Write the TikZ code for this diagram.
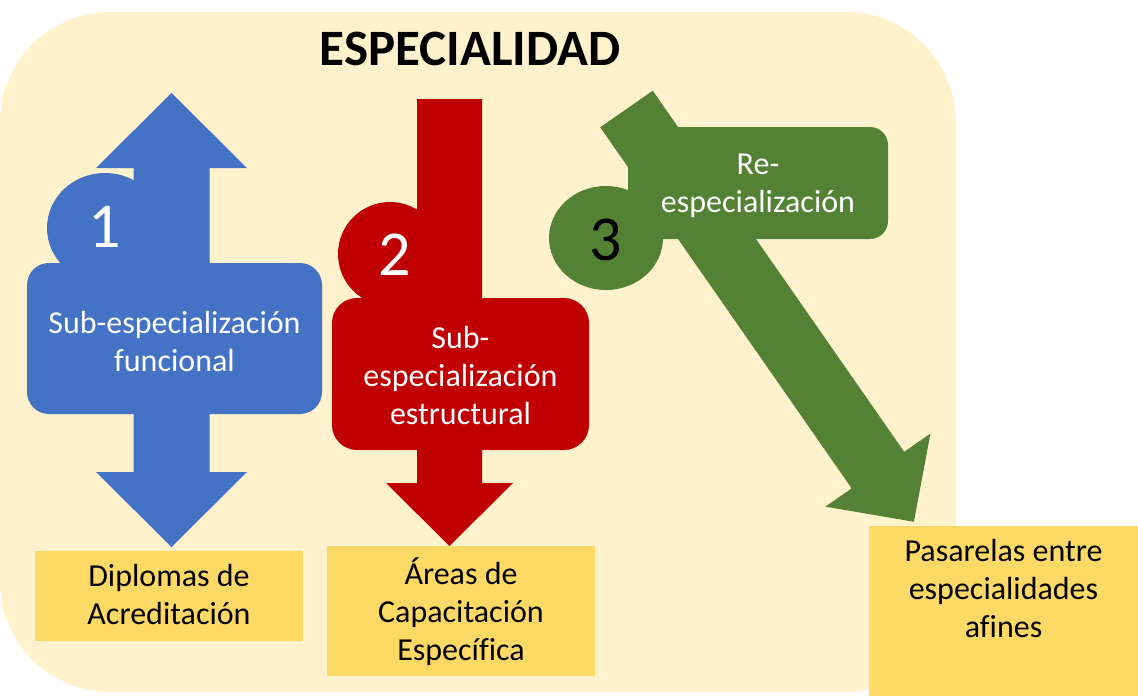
\documentclass[tikz,border=0pt]{standalone}
\usepackage{fontspec}
\setmainfont{Carlito}[Ligatures={TeX,NoCommon}]
\definecolor{bgY}{HTML}{FFF2CC}
\definecolor{blueC}{HTML}{4472C4}
\definecolor{redC}{HTML}{C00000}
\definecolor{greenC}{HTML}{548235}
\definecolor{goldY}{HTML}{FFD966}
\begin{document}
\begin{tikzpicture}[x=1pt,y=-1pt,
  lbl/.style={align=center, inner sep=0pt, font=\fontsize{32}{38}\selectfont,
    execute at begin node=\strut, execute at end node=\strut},
  wlbl/.style={lbl, text=white},
  num/.style={inner sep=0pt, anchor=base, font=\fontsize{64}{64}\selectfont},
  goldbox/.style={fill=goldY, draw=none, inner sep=0pt, rectangle}]
\useasboundingbox (0,0) rectangle (1138,696);
\fill[white] (0,0) rectangle (1138,696);
\fill[bgY, rounded corners=110pt] (0,12) rectangle (956,692);

\node[font=\fontsize{51}{51}\selectfont\bfseries, anchor=base, inner sep=0pt] (title) at (470,65) {ESPECIALIDAD};

% ---- blue group
\fill[blueC] (171.5,93) -- (247,168) -- (209.5,168) -- (209.5,472) -- (247,472) -- (171.5,547)
  -- (96,472) -- (133.5,472) -- (133.5,168) -- (96,168) -- cycle;
\fill[blueC] (105,228) ellipse [x radius=58, y radius=55];
\fill[blueC, rounded corners=22pt] (27,263) rectangle (322,414);
\node[num, text=white] (n1) at (105,247) {1};
\node[wlbl] (l1) at (174.5,347) {Sub-especialización\\funcional};

% ---- red group
\fill[redC] (417,99) -- (482,99) -- (482,483) -- (513,483) -- (449.5,546) -- (386,483) -- (417,483) -- cycle;
\fill[redC] (390,254) circle [radius=52];
\fill[redC, rounded corners=25pt] (332,298) rectangle (589,450);
\node[num, text=white] (n2) at (395,275) {2};
\node[wlbl] (l2) at (460.5,381) {Sub-\\especialización\\estructural};

% ---- green group
\begin{scope}[shift={(626.5,109)}, rotate=-55.15]
  \fill[greenC] (0,-32) -- (440,-32) -- (440,-64) -- (503,0) -- (440,64) -- (440,32) -- (0,32) -- cycle;
\end{scope}
\fill[greenC] (606,238) ellipse [x radius=57, y radius=52];
\fill[greenC, rounded corners=18pt] (628,127) rectangle (888,239);
\node[num, text=black] (n3) at (606,260) {3};
\node[wlbl] (l3) at (758,189) {Re-\\especialización};

% ---- result boxes
\node[goldbox, minimum width=268pt, minimum height=90pt] (dip) at (169,596) {};
\node[lbl] (diptxt) at (169,600.5) {Diplomas de\\Acreditación};
\node[goldbox, minimum width=268pt, minimum height=130pt] (areas) at (461,611) {};
\node[lbl] (areastxt) at (461,614.5) {Áreas de\\Capacitación\\Específica};
\node[goldbox, minimum width=269pt, minimum height=170pt] (pas) at (1003.5,611) {};
\node[lbl] (pastxt) at (1003.5,594.5) {Pasarelas entre\\especialidades\\afines};
\end{tikzpicture}
\end{document}
